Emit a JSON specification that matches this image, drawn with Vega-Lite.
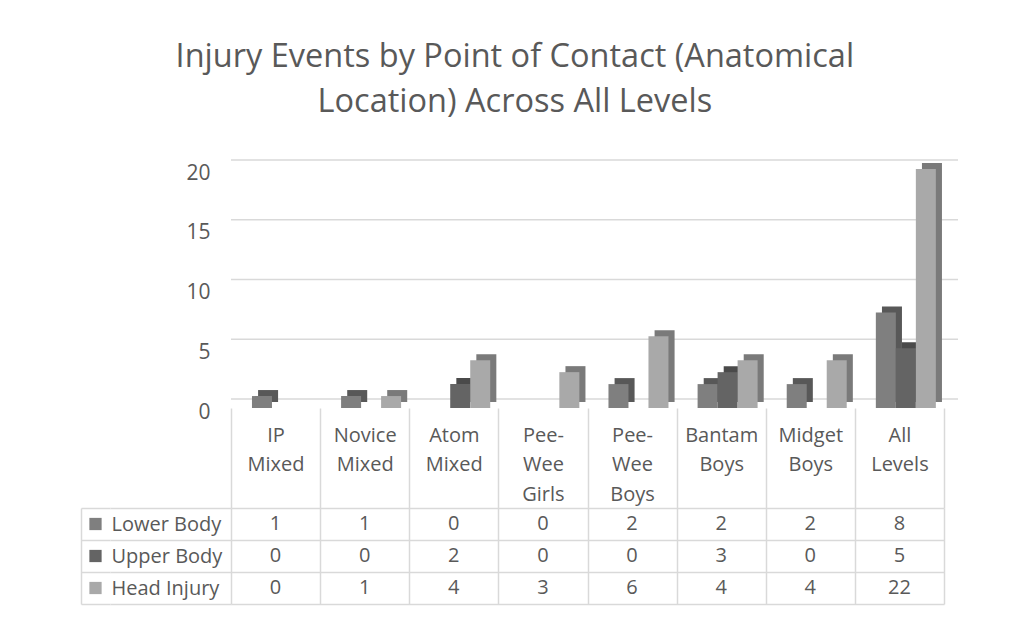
{
  "$schema": "https://vega.github.io/schema/vega-lite/v6.json",
  "background": "white",
  "padding": {"left": 81, "top": 40, "right": 10, "bottom": 20},
  "title": {
    "text": ["Injury Events by Point of Contact (Anatomical", "Location) Across All Levels"],
    "font": "Open Sans", "fontSize": 32.5, "fontWeight": "normal", "color": "#595959",
    "lineHeight": 45, "anchor": "middle", "offset": 41, "frame": "bounds", "dx": -5
  },
  "datasets": {
    "injury": [
      {"cat": "IP Mixed", "series": "Lower Body", "value": 1},
      {"cat": "Novice Mixed", "series": "Lower Body", "value": 1},
      {"cat": "Atom Mixed", "series": "Lower Body", "value": 0},
      {"cat": "Pee-Wee Girls", "series": "Lower Body", "value": 0},
      {"cat": "Pee-Wee Boys", "series": "Lower Body", "value": 2},
      {"cat": "Bantam Boys", "series": "Lower Body", "value": 2},
      {"cat": "Midget Boys", "series": "Lower Body", "value": 2},
      {"cat": "All Levels", "series": "Lower Body", "value": 8},
      {"cat": "IP Mixed", "series": "Upper Body", "value": 0},
      {"cat": "Novice Mixed", "series": "Upper Body", "value": 0},
      {"cat": "Atom Mixed", "series": "Upper Body", "value": 2},
      {"cat": "Pee-Wee Girls", "series": "Upper Body", "value": 0},
      {"cat": "Pee-Wee Boys", "series": "Upper Body", "value": 0},
      {"cat": "Bantam Boys", "series": "Upper Body", "value": 3},
      {"cat": "Midget Boys", "series": "Upper Body", "value": 0},
      {"cat": "All Levels", "series": "Upper Body", "value": 5},
      {"cat": "IP Mixed", "series": "Head Injury", "value": 0},
      {"cat": "Novice Mixed", "series": "Head Injury", "value": 1},
      {"cat": "Atom Mixed", "series": "Head Injury", "value": 4},
      {"cat": "Pee-Wee Girls", "series": "Head Injury", "value": 3},
      {"cat": "Pee-Wee Boys", "series": "Head Injury", "value": 6},
      {"cat": "Bantam Boys", "series": "Head Injury", "value": 4},
      {"cat": "Midget Boys", "series": "Head Injury", "value": 4},
      {"cat": "All Levels", "series": "Head Injury", "value": 22}
    ],
    "ticks": [{"v": 0}, {"v": 5}, {"v": 10}, {"v": 15}, {"v": 20}],
    "series": [{"series": "Lower Body"}, {"series": "Upper Body"}, {"series": "Head Injury"}],
    "cats": [{"cat": "IP Mixed"}, {"cat": "Novice Mixed"}, {"cat": "Atom Mixed"}, {"cat": "Pee-Wee Girls"}, {"cat": "Pee-Wee Boys"}, {"cat": "Bantam Boys"}, {"cat": "Midget Boys"}, {"cat": "All Levels"}]
  },
  "columns": 3,
  "spacing": 0,
  "bounds": "flush",
  "concat": [
    {"width": 29, "height": 239, "data": {"values": [{"t": ""}]}, "mark": {"type": "text"}, "encoding": {"text": {"field": "t"}}},
    {"width": 121, "height": 239, "data": {"values": [{"t": ""}]}, "mark": {"type": "text"}, "encoding": {"text": {"field": "t"}}},
    {
      "width": 713, "height": 239,
      "layer": [
        {
          "data": {"name": "ticks"},
          "mark": {"type": "rule", "color": "#d9d9d9", "strokeWidth": 1.5, "yOffset": -9, "xOffset": 14},
          "encoding": {
            "y": {"field": "v", "type": "quantitative", "title": null,
              "scale": {"domain": [0, 20], "nice": false, "clamp": true},
              "axis": {"values": [0, 5, 10, 15, 20], "labelPadding": 21, "labelOffset": 4, "labelFontSize": 21}}
          }
        },
        {
          "data": {"name": "injury"},
          "mark": {"type": "bar", "yOffset": -6},
          "encoding": {
            "x": {"field": "cat", "type": "nominal", "title": null,
              "scale": {"type": "band", "domain": ["IP Mixed", "Novice Mixed", "Atom Mixed", "Pee-Wee Girls", "Pee-Wee Boys", "Bantam Boys", "Midget Boys", "All Levels"], "paddingInner": 0, "paddingOuter": 0},
              "axis": null},
            "xOffset": {"field": "series", "type": "nominal",
              "scale": {"domain": ["Lower Body", "Upper Body", "Head Injury"], "paddingInner": 0, "paddingOuter": 0.728, "align": 0.93}},
            "y": {"field": "value", "type": "quantitative", "title": null,
              "scale": {"domain": [0, 20], "nice": false, "clamp": true}},
            "fill": {"field": "series", "type": "nominal", "legend": null,
              "scale": {"domain": ["Lower Body", "Upper Body", "Head Injury"], "range": ["#585858", "#4a4a4a", "#7a7a7a"]}}
          }
        },
        {
          "data": {"name": "injury"},
          "mark": {"type": "bar"},
          "encoding": {
            "x": {"field": "cat", "type": "nominal", "title": null,
              "scale": {"type": "band", "domain": ["IP Mixed", "Novice Mixed", "Atom Mixed", "Pee-Wee Girls", "Pee-Wee Boys", "Bantam Boys", "Midget Boys", "All Levels"], "paddingInner": 0, "paddingOuter": 0},
              "axis": null},
            "xOffset": {"field": "series", "type": "nominal",
              "scale": {"domain": ["Lower Body", "Upper Body", "Head Injury"], "paddingInner": 0, "paddingOuter": 0.728, "align": 0.72}},
            "y": {"field": "value", "type": "quantitative", "title": null,
              "scale": {"domain": [0, 20], "nice": false, "clamp": true}},
            "color": {"field": "series", "type": "nominal", "legend": null,
              "scale": {"domain": ["Lower Body", "Upper Body", "Head Injury"], "range": ["#7f7f7f", "#646464", "#a9a9a9"]}}
          }
        }
      ],
      "resolve": {"scale": {"xOffset": "independent"}}
    },
    {"width": 29, "height": 100, "data": {"values": [{"t": ""}]}, "mark": {"type": "text"}, "encoding": {"text": {"field": "t"}}},
    {"width": 121, "height": 100, "data": {"values": [{"t": ""}]}, "mark": {"type": "text"}, "encoding": {"text": {"field": "t"}}},
    {
      "width": 713, "height": 100,
      "data": {"name": "cats"},
      "mark": {"type": "text"},
      "encoding": {
        "x": {"field": "cat", "type": "nominal", "title": null,
          "scale": {"type": "band", "domain": ["IP Mixed", "Novice Mixed", "Atom Mixed", "Pee-Wee Girls", "Pee-Wee Boys", "Bantam Boys", "Midget Boys", "All Levels"], "paddingInner": 0, "paddingOuter": 0},
          "axis": {"orient": "top", "grid": true, "tickBand": "extent", "labelAngle": 0, "labelBaseline": "top", "labelPadding": -17, "labelLineHeight": 29.5, "labelOverlap": false, "labelBound": false, "labelExpr": "split(replace(datum.label, '-', '- '), ' ')"}},
        "text": {"value": ""}
      }
    },
    {
      "width": 29, "height": 96,
      "data": {"name": "series"},
      "mark": {"type": "point", "shape": "square", "filled": true, "size": 150, "opacity": 1},
      "encoding": {
        "y": {"field": "series", "type": "nominal", "title": null,
          "scale": {"type": "band", "domain": ["Lower Body", "Upper Body", "Head Injury"], "paddingInner": 0, "paddingOuter": 0},
          "axis": {"grid": true, "tickBand": "extent", "labels": false, "domain": true, "domainColor": "#d9d9d9", "domainWidth": 1.5}},
        "color": {"field": "series", "type": "nominal", "legend": null,
          "scale": {"domain": ["Lower Body", "Upper Body", "Head Injury"], "range": ["#7f7f7f", "#646464", "#a9a9a9"]}}
      }
    },
    {
      "width": 121, "height": 96,
      "data": {"name": "series"},
      "mark": {"type": "text"},
      "encoding": {
        "y": {"field": "series", "type": "nominal", "title": null,
          "scale": {"type": "band", "domain": ["Lower Body", "Upper Body", "Head Injury"], "paddingInner": 0, "paddingOuter": 0},
          "axis": {"grid": true, "tickBand": "extent", "labels": true, "labelAlign": "left", "labelPadding": -1}},
        "text": {"value": ""}
      }
    },
    {
      "width": 713, "height": 96,
      "data": {"name": "injury"},
      "mark": {"type": "text", "fontSize": 20, "font": "Open Sans", "color": "#595959"},
      "encoding": {
        "x": {"field": "cat", "type": "nominal", "title": null,
          "scale": {"type": "band", "domain": ["IP Mixed", "Novice Mixed", "Atom Mixed", "Pee-Wee Girls", "Pee-Wee Boys", "Bantam Boys", "Midget Boys", "All Levels"], "paddingInner": 0, "paddingOuter": 0},
          "axis": {"grid": true, "tickBand": "extent", "labels": false}},
        "y": {"field": "series", "type": "nominal", "title": null,
          "scale": {"type": "band", "domain": ["Lower Body", "Upper Body", "Head Injury"], "paddingInner": 0, "paddingOuter": 0},
          "axis": {"grid": true, "tickBand": "extent", "labels": false}},
        "text": {"field": "value", "type": "quantitative"}
      }
    }
  ],
  "config": {
    "view": {"stroke": null},
    "axis": {"domain": false, "ticks": false, "tickSize": 0, "grid": false, "gridColor": "#d9d9d9", "gridWidth": 1.5,
      "labelFont": "Open Sans", "labelFontSize": 20, "labelColor": "#595959"},
    "text": {"font": "Open Sans"}
  }
}
